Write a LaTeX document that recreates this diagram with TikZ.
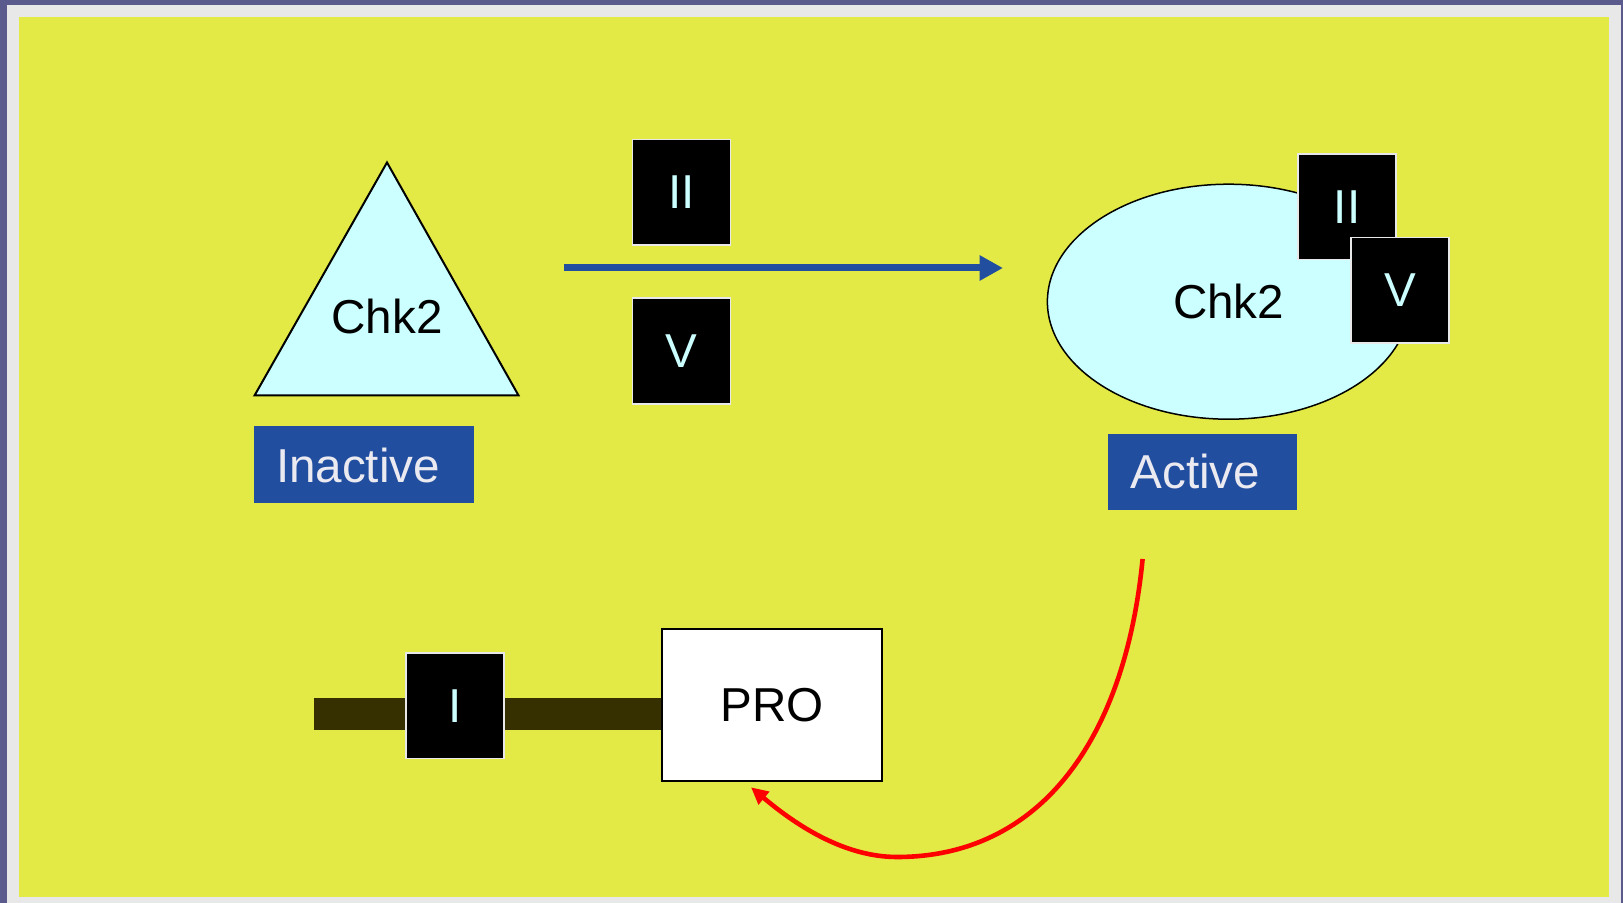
\documentclass[tikz,border=0pt]{standalone}
\usepackage{fontspec}
\setmainfont{Liberation Sans}
\usetikzlibrary{arrows.meta,shapes.geometric}

\definecolor{slidebg}{RGB}{91,90,140}
\definecolor{framegray}{RGB}{232,232,232}
\definecolor{panel}{RGB}{227,234,69}
\definecolor{protein}{RGB}{204,255,255}
\definecolor{statebox}{RGB}{34,78,160}
\definecolor{statetext}{RGB}{234,234,240}
\definecolor{dna}{RGB}{54,48,0}

\tikzset{
  lbl/.style={font=\fontsize{23.8}{28}\selectfont},
  motifbox/.style={fill=black, draw=framegray, line width=0.8pt,
    minimum width=49pt, minimum height=52.8pt, inner sep=0pt,
    text=protein, lbl},
  statuslabel/.style={fill=statebox, text=statetext, inner xsep=11pt, inner ysep=0pt,
    align=left, lbl},
}

\begin{document}
\begin{tikzpicture}[x=0.5pt,y=-0.5pt]
% slide frame
\fill[slidebg] (0,0) rectangle (1623,903);
\fill[framegray] (7,5) rectangle (1621,903);
\fill[panel] (19,17) rectangle (1609,897);
\useasboundingbox (0,0) rectangle (1623,903);

% inactive kinase
\draw[fill=protein, line width=1pt, line join=miter]
  (387,162.5) -- (518.5,395.4) -- (254.6,395.4) -- cycle;
\node[lbl] (chkin) at (387,316) {Chk2};
\node[statuslabel, text width=88pt, minimum height=38.5pt] (inactive)
  at (364,465) {Inactive};

% phosphorylation step
\node[motifbox] (dII) at (681.5,192.5) {II};
\node[motifbox] (dV) at (681.5,351) {V};
\coordinate (fwdA) at (564,268);
\coordinate (fwdB) at (1003,268);
\draw[statebox, line width=3.5pt, -{Triangle[length=11.7pt,width=12pt]}]
  (fwdA) -- (fwdB);

% active kinase
\node[ellipse, draw, fill=protein, line width=0.75pt, inner sep=0pt,
  minimum width=181.2pt, minimum height=117.5pt, lbl] (chkact)
  at (1228.6,301.7) {Chk2};
\node[motifbox] (aII) at (1347,206.8) {II};
\node[motifbox] (aV) at (1399.9,290.5) {V};
\node[statuslabel, text width=72.25pt, minimum height=38.15pt] (active)
  at (1202.7,471.9) {Active};

% gene with promoter
\node[draw=black, fill=white, line width=1pt, minimum width=109.7pt,
  minimum height=76pt, lbl] (pro) at (772.1,705.3) {PRO};
\coordinate (geneL) at (313.6,713.6);
\draw[dna, line width=16pt] (geneL) -- (geneL -| pro.west);
\node[motifbox] (dI) at (454.9,705.8) {I};

% feedback onto the promoter
\coordinate (fbA) at (1142.6,559);
\coordinate (fbB) at (751,787.3);
\draw[red, line width=2.3pt, -{Triangle[length=8.5pt,width=8pt]}]
  (fbA) .. controls (1125,740) and (1040,857) .. (897,857)
  .. controls (840,857) and (790,820) .. (fbB);
\end{tikzpicture}
\end{document}
